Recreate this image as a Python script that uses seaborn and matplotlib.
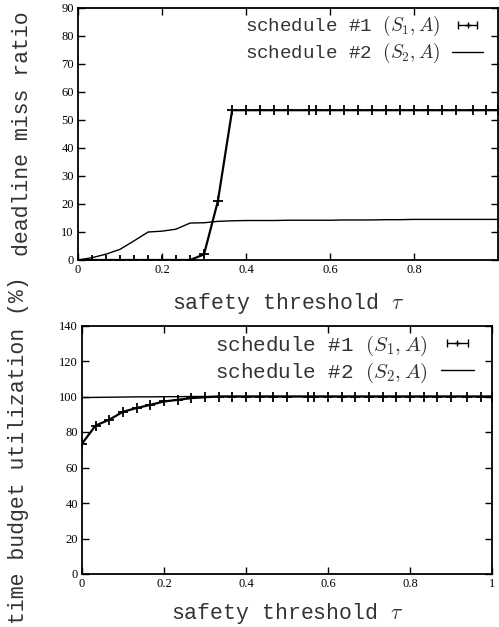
import matplotlib
matplotlib.use('Agg')
import matplotlib.pyplot as plt
import seaborn as sns
import pandas as pd
from matplotlib.lines import Line2D
from matplotlib.legend_handler import HandlerLine2D, HandlerTuple

# значения порога безопасности (tau)
tau = [0, 0.033, 0.067, 0.1, 0.133, 0.167, 0.2, 0.233, 0.267, 0.3, 0.333,
       0.367, 0.4, 0.433, 0.467, 0.5, 0.55, 0.567, 0.6, 0.633, 0.667, 0.7,
       0.733, 0.767, 0.8, 0.833, 0.867, 0.9, 0.94, 0.972, 1.0]

# доля пропущенных дедлайнов (%)
miss_s1 = [0, 0, 0, 0, 0, 0, 0, 0, 0, 2, 21,
           53.5, 53.5, 53.5, 53.5, 53.5, 53.5, 53.5, 53.5, 53.5, 53.5, 53.5,
           53.5, 53.5, 53.5, 53.5, 53.5, 53.5, 53.5, 53.5, 53.5]
miss_s2 = [0, 0.8, 2.1, 3.8, 6.8, 10, 10.3, 11, 13.2, 13.3, 13.8,
           14, 14.1, 14.1, 14.1, 14.2, 14.2, 14.2, 14.2, 14.3, 14.3, 14.3,
           14.4, 14.4, 14.5, 14.5, 14.5, 14.5, 14.5, 14.5, 14.5]

# использование временного бюджета (%)
util_s1 = [73.4, 83.6, 87, 91.4, 93.5, 95.3, 97.2, 98.1, 99.1, 99.6, 100,
           100, 100, 100, 100, 100, 100, 100, 100, 100, 100, 100,
           100, 100, 100, 100, 100, 100, 100, 100, 100]
util_s2 = [99.4, 99.5, 99.6, 99.7, 99.8, 99.8, 99.9, 99.9, 100, 100, 100,
           100, 100, 100, 100, 100, 100, 100, 100, 100, 100, 100,
           100, 100, 100, 100, 100, 100, 100, 100, 100]

lbl1 = 'schedule #1 $(S_1, A)$'
lbl2 = 'schedule #2 $(S_2, A)$'

sns.set_theme(style='ticks')
plt.rcParams['mathtext.fontset'] = 'cm'
plt.rcParams['font.family'] = ['Liberation Serif', 'DejaVu Serif']

mono = ['Liberation Mono', 'DejaVu Sans Mono']
txt_col = '#333333'

fig = plt.figure(figsize=(4.99, 6.27), dpi=100)
ax1 = fig.add_axes([78 / 499, 1 - 260 / 627, 420 / 499, 252 / 627])
ax2 = fig.add_axes([82 / 499, 1 - 574 / 627, 410 / 499, 248.5 / 627])

df1 = pd.DataFrame({'tau': tau, 's1': miss_s1, 's2': miss_s2})
df2 = pd.DataFrame({'tau': tau, 's1': util_s1, 's2': util_s2})


def draw(ax, df, ylim, yticks, xticks, xlab, ylab, legsize, leg_anchor,
         xpad, ypad):
    sns.lineplot(data=df, x='tau', y='s2', ax=ax, color='black', lw=1.0)
    sns.lineplot(data=df, x='tau', y='s1', ax=ax, color='black', lw=1.6,
                 marker='+', markersize=7, markeredgewidth=1.3,
                 markeredgecolor='black')
    ax.set_xlim(0, 1)
    ax.set_ylim(*ylim)
    ax.set_yticks(yticks)
    ax.set_xticks(xticks)
    ax.set_xticklabels([f'{t:g}' for t in xticks])
    ax.tick_params(direction='in', length=5, width=1, top=True, right=True,
                   labelsize=9, pad=3, colors='black')
    for s in ax.spines.values():
        s.set_linewidth(1.3)
        s.set_color('black')
    ax.set_xlabel(xlab, fontfamily=mono, fontsize=15.5, labelpad=xpad,
                  color=txt_col)
    ax.set_ylabel(ylab, fontfamily=mono, fontsize=15.5, labelpad=ypad,
                  color=txt_col)

    # ключ в стиле gnuplot: |-+-| и сплошная линия
    h_bar = Line2D([], [], color='black', lw=1.0, marker='|', markersize=6,
                   markeredgewidth=1.0)
    h_plus = Line2D([], [], color='black', ls='none', marker='+',
                    markersize=5, markeredgewidth=1.0)
    h_line = Line2D([], [], color='black', lw=1.0)
    leg = ax.legend([(h_bar, h_plus), h_line], [lbl1, lbl2],
                    handler_map={h_bar: HandlerLine2D(numpoints=2),
                                 h_plus: HandlerLine2D(numpoints=1),
                                 tuple: HandlerTuple(ndivide=1)},
                    prop={'family': mono, 'size': legsize}, frameon=False,
                    markerfirst=False, loc='upper right',
                    bbox_to_anchor=leg_anchor, handlelength=1.6,
                    handletextpad=0.6, labelspacing=0.15, borderpad=0,
                    borderaxespad=0)
    for t in leg.get_texts():
        t.set_color(txt_col)


draw(ax1, df1, (0, 90), range(0, 91, 10), [0, 0.2, 0.4, 0.6, 0.8],
     r'safety threshold $\tau$', 'deadline miss ratio', 13.8,
     (0.964, 0.975), 11, 20)
draw(ax2, df2, (0, 140), range(0, 141, 20), [0, 0.2, 0.4, 0.6, 0.8, 1],
     r'safety threshold $\tau$', 'time budget utilization (%)', 15,
     (0.956, 0.968), 8, 22)

fig.savefig('out.png', dpi=100)
